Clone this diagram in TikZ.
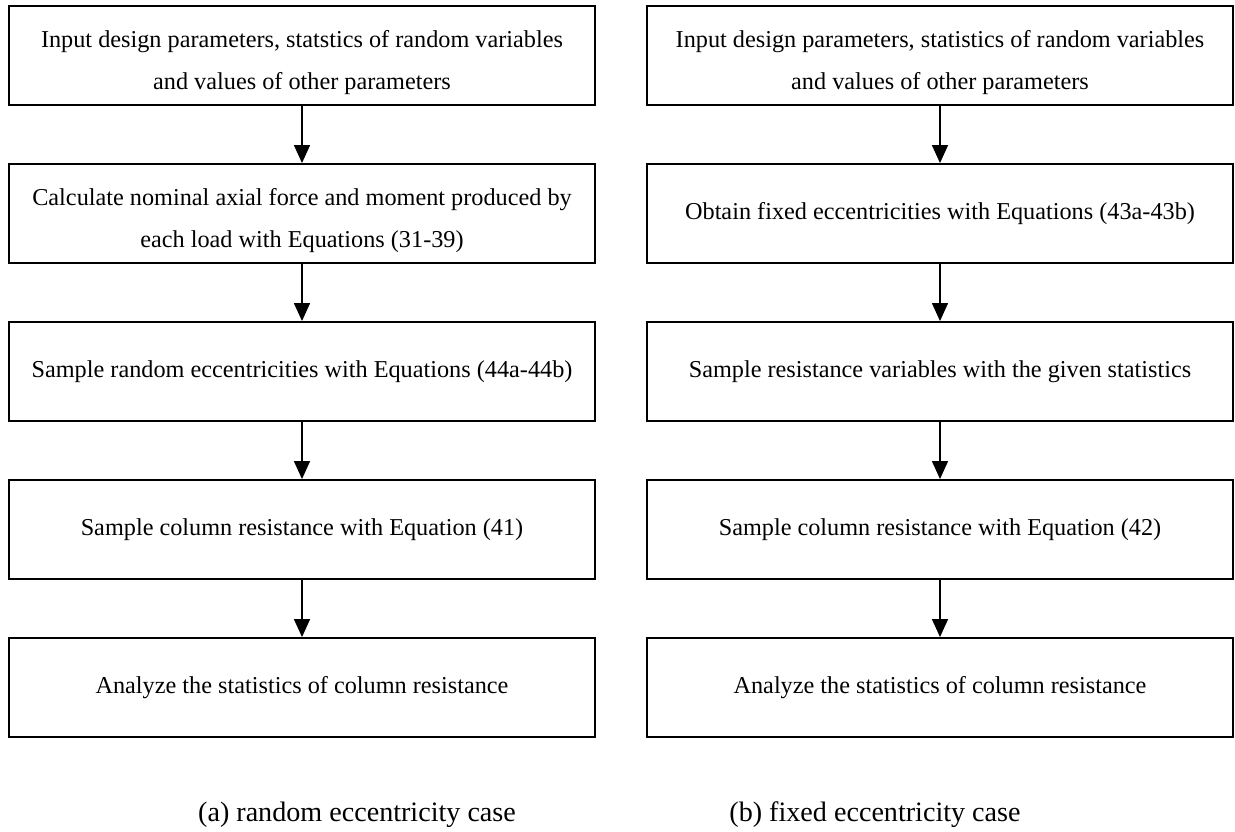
\documentclass[tikz,border=0pt]{standalone}
\usepackage{fontspec}
\setmainfont{Liberation Serif}
\usetikzlibrary{arrows.meta}

\begin{document}
\begin{tikzpicture}[
    stepbox/.style={draw, line width=1.6pt, minimum width=17.58cm, minimum height=2.97cm, inner sep=0pt, align=center, font=\fontsize{20.7}{35.7}\selectfont},
    twolinebox/.style={stepbox, text height=2.2cm},
    flowarrow/.style={-{Triangle[length=0.54cm,width=0.48cm]}, line width=1.2pt},
    casecaption/.style={font=\fontsize{24}{28}\selectfont}
]
    \useasboundingbox (0,0) rectangle (37.05,-24.96);
    % Random eccentricity case
    \node[twolinebox] (rinput) at (9.06,-1.665) {Input design parameters, statstics of random variables\\and values of other parameters};
    \node[twolinebox] (rforce) at (9.06,-6.405) {Calculate nominal axial force and moment produced by\\each load with Equations (31-39)};
    \node[stepbox] (recc) at (9.06,-11.145) {Sample random eccentricities with Equations (44a-44b)};
    \node[stepbox] (rres) at (9.06,-15.885) {Sample column resistance with Equation (41)};
    \node[stepbox] (rstat) at (9.06,-20.625) {Analyze the statistics of column resistance};
    \draw[flowarrow] (rinput) -- (rforce);
    \draw[flowarrow] (rforce) -- (recc);
    \draw[flowarrow] (recc) -- (rres);
    \draw[flowarrow] (rres) -- (rstat);
    \node[casecaption] (rcap) at (10.71,-24.45) {(a) random eccentricity case};

    % Fixed eccentricity case
    \node[twolinebox] (finput) at (28.2,-1.665) {Input design parameters, statistics of random variables\\and values of other parameters};
    \node[stepbox] (fecc) at (28.2,-6.405) {Obtain fixed eccentricities with Equations (43a-43b)};
    \node[stepbox] (fvar) at (28.2,-11.145) {Sample resistance variables with the given statistics};
    \node[stepbox] (fres) at (28.2,-15.885) {Sample column resistance with Equation (42)};
    \node[stepbox] (fstat) at (28.2,-20.625) {Analyze the statistics of column resistance};
    \draw[flowarrow] (finput) -- (fecc);
    \draw[flowarrow] (fecc) -- (fvar);
    \draw[flowarrow] (fvar) -- (fres);
    \draw[flowarrow] (fres) -- (fstat);
    \node[casecaption] (fcap) at (26.25,-24.45) {(b) fixed eccentricity case};
\end{tikzpicture}
\end{document}
